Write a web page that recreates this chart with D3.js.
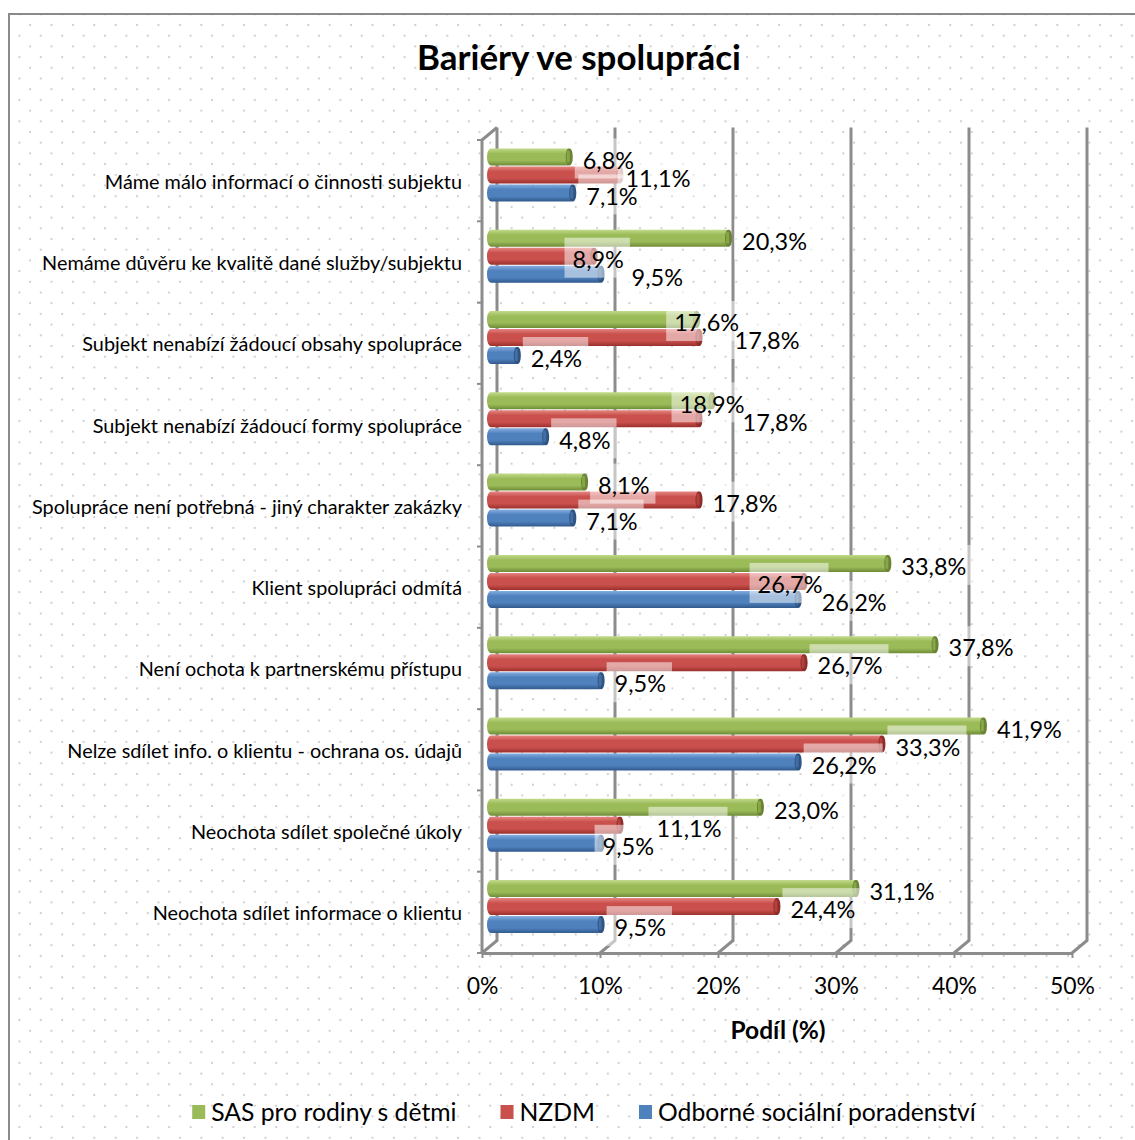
<!DOCTYPE html>
<html><head><meta charset="utf-8">
<script src="https://cdn.jsdelivr.net/npm/d3@7"></script>
<style>
body{margin:0;background:#fff}
svg{display:block}
text{font-family:Lato,"Open Sans",sans-serif;fill:#000}
</style>
</head><body>
<svg id="c" width="1135" height="1140"></svg>
<script>
// ---------- DATA ----------
const title = "Bariéry ve spolupráci";
const axisTitle = "Podíl (%)";
const categories = [
  "Máme málo informací o činnosti subjektu",
  "Nemáme důvěru ke kvalitě dané služby/subjektu",
  "Subjekt nenabízí žádoucí obsahy spolupráce",
  "Subjekt nenabízí žádoucí formy spolupráce",
  "Spolupráce není potřebná - jiný charakter zakázky",
  "Klient spolupráci odmítá",
  "Není ochota k partnerskému přístupu",
  "Nelze sdílet info. o klientu - ochrana os. údajů",
  "Neochota sdílet společné úkoly",
  "Neochota sdílet informace o klientu"
];
const seriesNames = ["SAS pro rodiny s dětmi", "NZDM", "Odborné sociální poradenství"];
const sasValues  = [6.8, 20.3, 17.6, 18.9, 8.1, 33.8, 37.8, 41.9, 23.0, 31.1];
const nzdmValues = [11.1, 8.9, 17.8, 17.8, 17.8, 26.7, 26.7, 33.3, 11.1, 24.4];
const ospValues  = [7.1, 9.5, 2.4, 4.8, 7.1, 26.2, 9.5, 26.2, 9.5, 9.5];
const tickValues = [0, 10, 20, 30, 40, 50];

// ---------- LAYOUT / STYLE ----------
const seriesValues = [sasValues, nzdmValues, ospValues];
const colors = [
  {top:"#c2da8a", mid:"#9bbb59", bot:"#6f8b37", cap:"#6a8433"},
  {top:"#e58582", mid:"#c9504c", bot:"#9a302d", cap:"#8e2d2a"},
  {top:"#86aee0", mid:"#4f81bd", bot:"#31598c", cap:"#2f5482"}
];
// Excel's collision-avoidance shifts of some data labels (px, relative to default spot)
const labelNudge = [
  [0, 0, -36, -46, 0, 0, 0, 0, 0, 0],
  [-8, -35, 22, 30, 0, -60, 0, 0, 23, 0],
  [0, 17, 0, 0, 0, 10, 0, 0, -12, 0]
];
const FONT = 'Lato,"Open Sans",sans-serif';
const depth = {dx: 15, dy: -12.5};

const svg = d3.select("#c");
const defs = svg.append("defs");

// dotted background pattern
const pat = defs.append("pattern").attr("id","dots").attr("patternUnits","userSpaceOnUse")
  .attr("x", 7.7).attr("y", 2.6).attr("width", 21.4).attr("height", 21.4);
pat.append("rect").attr("x",0).attr("y",0).attr("width",2).attr("height",2).attr("fill","#d0d0d0");
pat.append("rect").attr("x",10.7).attr("y",10.7).attr("width",2).attr("height",2).attr("fill","#d0d0d0");

svg.append("rect").attr("x",0).attr("y",0).attr("width",1135).attr("height",1140).attr("fill","#fff");
svg.append("rect").attr("x",9).attr("y",14).attr("width",1140).attr("height",1140)
  .attr("fill","url(#dots)").attr("stroke","#8a8a8a").attr("stroke-width",2);

// gradients
colors.forEach((c,i)=>{
  const g = defs.append("linearGradient").attr("id","g"+i).attr("x1",0).attr("y1",0).attr("x2",0).attr("y2",1);
  g.append("stop").attr("offset","0%").attr("stop-color",c.top);
  g.append("stop").attr("offset","30%").attr("stop-color",c.mid);
  g.append("stop").attr("offset","70%").attr("stop-color",c.mid);
  g.append("stop").attr("offset","100%").attr("stop-color",c.bot);
});

// measure helper
function fitSize(str, target, weight){
  const t = svg.append("text").style("font-family",FONT).style("font-weight",weight||"normal")
    .style("font-size","100px").text(str);
  const w = t.node().getComputedTextLength();
  t.remove();
  return 100*target/w;
}

// scales
const x = d3.scaleLinear().domain([0,50]).range([482,1072]);
const y = d3.scaleBand().domain(categories).range([140,953]);
const barH = 17, barStep = 18;

// back wall gridlines + diagonals
const grid = svg.append("g").attr("fill","none").attr("stroke","#8c8c8c").attr("stroke-width",3);
tickValues.forEach(t=>{
  grid.append("path").attr("d",
    `M${x(t)+depth.dx},${y.range()[0]+depth.dy} V${y.range()[1]+depth.dy} L${x(t)},${y.range()[1]}`);
});
// front left axis with top diagonal
grid.append("path").attr("d",
  `M${x(0)},${y.range()[1]} V${y.range()[0]} L${x(0)+depth.dx},${y.range()[0]+depth.dy}`);
// left boundary ticks
const bounds = categories.map(c=>y(c)).concat([y.range()[1]]);
grid.selectAll(".lt").data(bounds).join("path")
  .attr("stroke-width",2).attr("d",d=>`M${x(0)-5},${d} H${x(0)}`);

// bottom axis
const fs_tick = fitSize("10%", 45);
const xAxis = svg.append("g").attr("transform",`translate(0,${y.range()[1]})`)
  .call(d3.axisBottom(x).tickValues(tickValues).tickFormat(d=>d+"%").tickSize(5).tickPadding(6));
xAxis.select(".domain").attr("stroke","#8c8c8c").attr("stroke-width",3).attr("d",`M${x(0)},0.5H${x(50)}`);
xAxis.selectAll(".tick line").attr("stroke","#8c8c8c").attr("stroke-width",2);
xAxis.selectAll(".tick text").attr("y",33).attr("dy","0.35em")
  .style("font-family",FONT).style("font-size",fs_tick+"px").attr("fill","#000");

// category labels
const fs_cat = fitSize("Nelze sdílet info. o klientu - ochrana os. údajů", 395);
const yAxis = svg.append("g").attr("transform",`translate(${x(0)},0)`)
  .call(d3.axisLeft(y).tickSize(0).tickPadding(20));
yAxis.select(".domain").remove();
yAxis.selectAll(".tick text").attr("dy","0.35em").attr("y",1)
  .style("font-family",FONT).style("font-size",fs_cat+"px").attr("fill","#000");

// bars
const barsG = svg.append("g");
const barRows = [];
categories.forEach((c,i)=>{
  const center = y(c) + y.bandwidth()/2 + depth.dy/2;
  seriesValues.forEach((vals,s)=>{
    const v = vals[i];
    const top = center - 26 + s*barStep;
    const x0 = x(0) + 5, x1 = x(v) + depth.dx/2 + 2;
    barsG.append("rect").attr("x",x0).attr("y",top).attr("width",x1-x0).attr("height",barH)
      .attr("rx",4).attr("ry",8).attr("fill",`url(#g${s})`);
    barsG.append("rect").attr("x",x1-6).attr("y",top).attr("width",7).attr("height",barH)
      .attr("rx",3).attr("ry",8).attr("fill",colors[s].cap);
    barsG.append("rect").attr("x",x1-5).attr("y",top+2).attr("width",3).attr("height",barH-5)
      .attr("rx",1.5).attr("fill",colors[s].mid).attr("opacity",0.6);
    barRows.push({v, s, i, cy: top + barH/2, end: x1 + 1});
  });
});

// data labels
const fs_lab = fitSize("24,4%", 65);
const fmt = v => v.toFixed(1).replace(".", ",") + "%";
const labG = svg.append("g");
const boxG = labG.append("g"), txtG = labG.append("g");
barRows.forEach(d=>{
  const lx = d.end + 10 + labelNudge[d.s][d.i];
  const ly = d.cy + 3.5;
  const t = txtG.append("text").attr("x",lx).attr("y",ly).attr("dy","0.35em")
    .style("font-family",FONT).style("font-size",fs_lab+"px").text(fmt(d.v));
  const w = t.node().getComputedTextLength();
  boxG.append("rect").attr("x",lx-8).attr("y",ly-22).attr("width",w+14).attr("height",40)
    .attr("fill","#fff").attr("opacity",0.5);
});

// title
svg.append("text").attr("x",579).attr("y",58).attr("dy","0.35em").attr("text-anchor","middle")
  .style("font-family",FONT).style("font-weight","bold")
  .style("font-size",fitSize(title,324,"bold")+"px").text(title);

// axis title
svg.append("text").attr("x",778).attr("y",1030).attr("dy","0.35em").attr("text-anchor","middle")
  .style("font-family",FONT).style("font-weight","bold")
  .style("font-size",fitSize(axisTitle,95,"bold")+"px").text(axisTitle);

// legend
const fs_leg = fitSize("Odborné sociální poradenství", 318);
const leg = svg.append("g");
const items = seriesNames.map((n,s)=>{
  const g = leg.append("g");
  g.append("rect").attr("x",0).attr("y",-7).attr("width",13).attr("height",14).attr("fill",colors[s].mid);
  const t = g.append("text").attr("x",19).attr("y",0).attr("dy","0.35em")
    .style("font-family",FONT).style("font-size",fs_leg+"px").text(n);
  return {g, w: 19 + t.node().getComputedTextLength()};
});
const gap = 44;
const total = d3.sum(items, d=>d.w) + gap*(items.length-1);
let lx = 584 - total/2;
items.forEach(it=>{ it.g.attr("transform",`translate(${lx},1112)`); lx += it.w + gap; });
</script>
</body></html>
